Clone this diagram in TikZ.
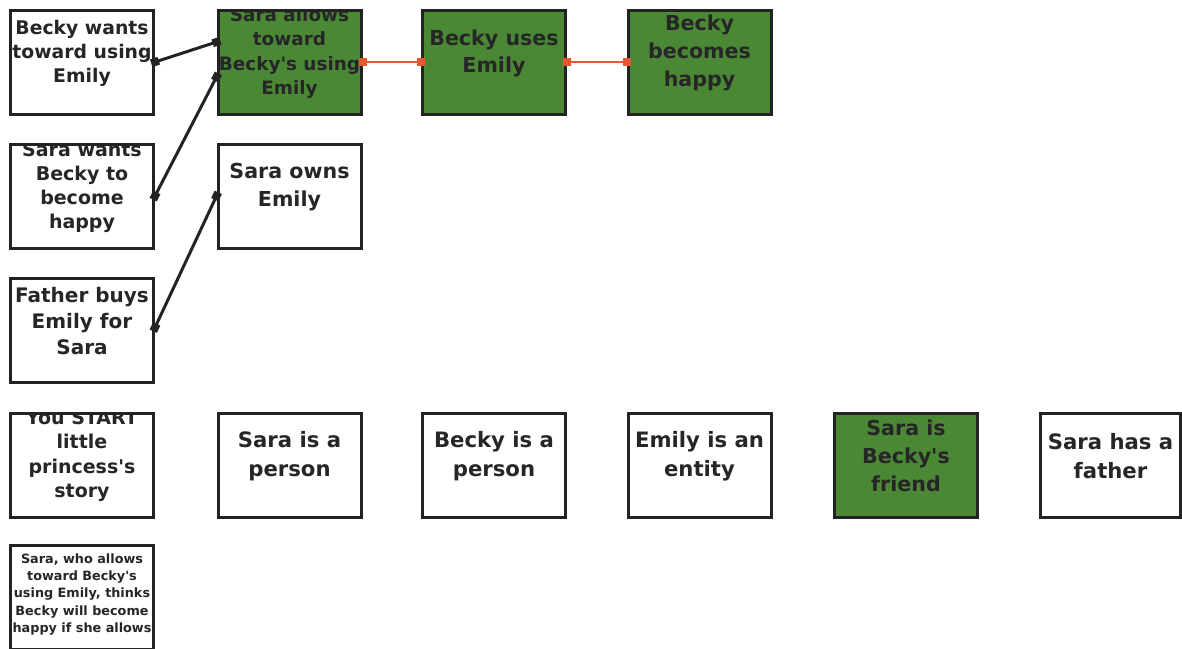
\documentclass[tikz,border=0pt]{standalone}
\usepackage{fontspec}
\setmainfont{DejaVu Sans}
\usetikzlibrary{arrows.meta}
\definecolor{boxline}{RGB}{35,35,35}
\definecolor{inktext}{RGB}{38,38,38}
\definecolor{leafgreen}{RGB}{74,136,54}
\definecolor{linkred}{RGB}{232,88,48}
\tikzset{
  lift/.store in=\boxlift, lift=4.5pt,
  box/.style n args={3}{draw=boxline, line width=1.5pt, fill=white, inner sep=0pt,
    minimum width=71.5pt, minimum height=52pt,
    path picture={\node[align=center, text=inktext, font=\bfseries\fontsize{#1}{#2}\selectfont]
      at ([yshift=\boxlift]path picture bounding box.center) {#3};}},
  green/.style={fill=leafgreen},
  link/.style={draw=boxline, line width=1.5pt, shorten <=-2pt, shorten >=-2pt,
    arrows={Square[length=4pt,width=4pt]-Square[length=4pt,width=4pt]}},
  redlink/.style={draw=linkred, line width=1.3pt, shorten <=-2pt, shorten >=-2pt,
    arrows={Square[length=4pt,width=4pt]-Square[length=4pt,width=4pt]}}
}
\newcommand\apos{\textquotesingle}

\begin{document}
\begin{tikzpicture}[x=0.5pt, y=-0.5pt]
\useasboundingbox (0,0) rectangle (1182,648);
\node[box={9.4}{12}{Becky wants\\toward using\\Emily}] (bwant) at (82,62) {};
\node[box={9.2}{12.25}{Sara allows\\toward\\Becky\apos s using\\Emily}, green] (sallow) at (289.5,62) {};
\node[box={10.3}{13.5}{Becky uses\\Emily}, green] (buses) at (494,62) {};
\node[box={10.3}{14}{Becky\\becomes\\happy}, green] (bhappy) at (699.5,62) {};
\node[box={9.5}{12}{Sara wants\\Becky to\\become\\happy}] (swant) at (82,196) {};
\node[box={10.3}{14}{Sara owns\\Emily}] (sown) at (289.5,196) {};
\node[box={10}{13}{Father buys\\Emily for\\Sara}] (fbuy) at (82,330.5) {};
\node[box={9.5}{12.25}{You START\\little\\princess\apos s\\story}] (start) at (82,465) {};
\node[box={10.6}{14.5}{Sara is a\\person}] (sperson) at (289.5,465) {};
\node[box={10.6}{14.5}{Becky is a\\person}] (bperson) at (494,465) {};
\node[box={10.6}{14.5}{Emily is an\\entity}] (eentity) at (699.5,465) {};
\node[box={10.3}{14}{Sara is\\Becky\apos s\\friend}, green] (sfriend) at (906,465) {};
\node[box={10.6}{14.5}{Sara has a\\father}, minimum width=70pt] (sfather) at (1110.5,465) {};
\node[box={6.4}{8.65}{Sara, who allows\\toward Becky\apos s\\using Emily, thinks\\Becky will become\\happy if she allows}, lift=1.25pt] (sthink) at (82,597) {};
\draw[link] (bwant.east) -- ([yshift=10pt]sallow.west);
\draw[link] (swant.east) -- ([yshift=-7.5pt]sallow.west);
\draw[link] ([yshift=1.5pt]fbuy.east) -- (sown.west);
\draw[redlink] (sallow.east) -- (buses.west);
\draw[redlink] (buses.east) -- (bhappy.west);
\end{tikzpicture}
\end{document}
